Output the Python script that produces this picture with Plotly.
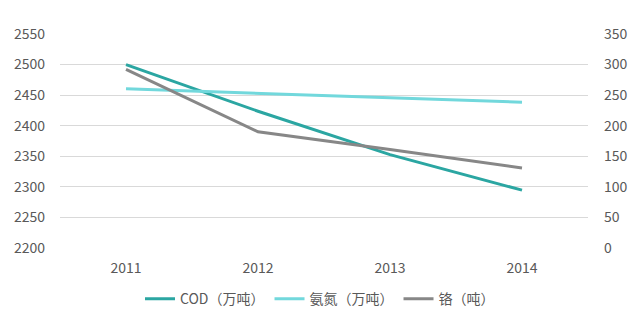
import plotly.graph_objects as go

years = ["2011", "2012", "2013", "2014"]
cod = [2499.9, 2423.7, 2352.7, 2294.6]
nh3 = [260.4, 253.6, 245.7, 238.5]
cr = [292, 190, 161, 131]

left_ticks = [2200, 2250, 2300, 2350, 2400, 2450, 2500, 2550]
right_ticks = [0, 50, 100, 150, 200, 250, 300, 350]

fig = go.Figure()
fig.add_trace(go.Scatter(x=years, y=cod, name="COD（万吨）", mode="lines",
                         line=dict(color="#2ba6a2", width=3)))
fig.add_trace(go.Scatter(x=years, y=nh3, name="氨氮（万吨）", mode="lines",
                         line=dict(color="#72d8dc", width=3), yaxis="y2"))
fig.add_trace(go.Scatter(x=years, y=cr, name="铬（吨）", mode="lines",
                         line=dict(color="#878787", width=3), yaxis="y2"))

font = dict(family="Noto Sans CJK SC, Noto Sans, sans-serif", size=14, color="#595959")
fig.update_layout(
    width=640, height=321,
    margin=dict(l=60, r=52, t=34, b=73, autoexpand=False),
    paper_bgcolor="white", plot_bgcolor="white",
    font=font,
    showlegend=True,
    legend=dict(orientation="h", x=0.5, xanchor="center", xref="container",
                y=0.068, yanchor="middle", yref="container",
                font=dict(size=14, color="#595959"), itemwidth=30, tracegroupgap=0),
    xaxis=dict(type="category", showgrid=False, zeroline=False, showline=False,
               ticks="", tickfont=font, range=[-0.5, 3.5], ticklabelstandoff=10),
    yaxis=dict(range=[2200, 2550], tickvals=left_ticks, showgrid=True,
               gridcolor="#d9d9d9", gridwidth=1, zeroline=False, showline=False,
               ticks="", tickfont=font, ticklabelstandoff=14),
    yaxis2=dict(range=[0, 350], tickvals=right_ticks, overlaying="y", side="right",
                showgrid=False, zeroline=False, showline=False, ticks="",
                tickfont=font, ticklabelstandoff=15),
)
fig.write_html("out.html")
